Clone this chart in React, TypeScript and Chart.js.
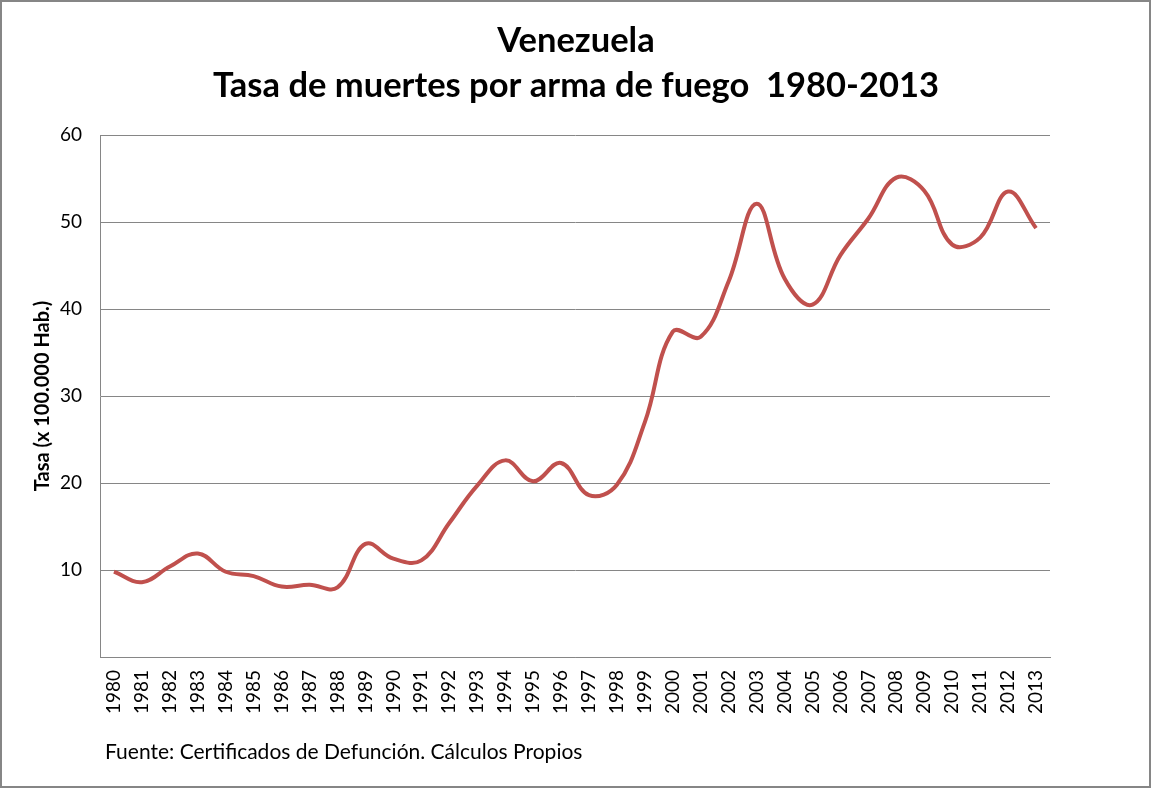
import React, { useEffect, useRef } from 'react';
import { Chart, registerables } from 'chart.js';

Chart.register(...registerables);

const titleLines = ['Venezuela', 'Tasa de muertes por arma de fuego  1980-2013'];
const yAxisTitle = 'Tasa (x 100.000 Hab.)';
const sourceNote = 'Fuente: Certificados de Defunción. Cálculos Propios';

const years = [
  '1980', '1981', '1982', '1983', '1984', '1985', '1986', '1987', '1988', '1989',
  '1990', '1991', '1992', '1993', '1994', '1995', '1996', '1997', '1998', '1999',
  '2000', '2001', '2002', '2003', '2004', '2005', '2006', '2007', '2008', '2009',
  '2010', '2011', '2012', '2013',
];

const rates = [
  9.8, 8.6, 10.4, 11.9, 9.8, 9.3, 8.1, 8.3, 8.0, 13.0,
  11.3, 11.1, 15.4, 19.7, 22.6, 20.2, 22.3, 18.6, 19.8, 27.0,
  37.4, 36.8, 43.2, 52.1, 43.5, 40.5, 46.2, 50.4, 55.1, 53.6,
  47.4, 48.2, 53.5, 49.3,
];

const yTicks = [10, 20, 30, 40, 50, 60];

const W = 1151;
const H = 788;
const FONT = 'Lato, "Open Sans", sans-serif';

const framePlugin = {
  id: 'frame',
  beforeDraw(chart: any) {
    const ctx = chart.ctx;
    ctx.save();
    ctx.fillStyle = '#ffffff';
    ctx.fillRect(0, 0, chart.width, chart.height);
    ctx.restore();
  },
  afterDraw(chart: any) {
    const ctx = chart.ctx;
    ctx.save();
    ctx.fillStyle = '#000000';
    ctx.textAlign = 'center';
    ctx.textBaseline = 'alphabetic';
    ctx.font = `bold 34.5px ${FONT}`;
    ctx.fillText(titleLines[0], 576, 52);
    ctx.fillText(titleLines[1], 576, 97);
    ctx.textAlign = 'left';
    ctx.font = `21px ${FONT}`;
    ctx.fillText(sourceNote, 105, 759);
    ctx.strokeStyle = '#868686';
    ctx.lineWidth = 2;
    ctx.strokeRect(1, 1, chart.width - 2, chart.height - 2);
    ctx.restore();
  },
};

export default function App() {
  const ref = useRef<HTMLCanvasElement | null>(null);

  useEffect(() => {
    if (!ref.current) return;
    const chart = new Chart(ref.current, {
      type: 'line',
      data: {
        labels: years,
        datasets: [
          {
            label: 'Tasa',
            data: rates,
            borderColor: '#C0504D',
            backgroundColor: '#C0504D',
            borderWidth: 4,
            pointRadius: 0,
            pointHoverRadius: 0,
            tension: 0.4,
            fill: false,
          },
        ],
      },
      options: {
        animation: false,
        responsive: false,
        devicePixelRatio: 1,
        layout: { padding: { top: 135, right: 101, bottom: 0, left: 0 } },
        plugins: {
          legend: { display: false },
          title: { display: false },
          tooltip: { enabled: false },
        },
        scales: {
          x: {
            type: 'category',
            offset: true,
            grid: { display: false, drawTicks: false },
            border: { display: true, color: '#868686', width: 1 },
            ticks: {
              minRotation: 90,
              maxRotation: 90,
              autoSkip: false,
              padding: 13,
              color: '#000000',
              font: { family: FONT, size: 19 },
            },
            afterFit(scale: any) {
              scale.height = H - 657;
            },
          },
          y: {
            min: 0,
            max: 60,
            afterBuildTicks(scale: any) {
              scale.ticks = [0, ...yTicks].map((v) => ({ value: v }));
            },
            grid: { color: '#868686', lineWidth: 1, drawTicks: false },
            border: { display: true, color: '#868686', width: 1 },
            ticks: {
              padding: 18,
              color: '#000000',
              font: { family: FONT, size: 19 },
              callback: (v: any) => (Number(v) === 0 ? '' : String(v)),
            },
            title: {
              display: true,
              text: yAxisTitle,
              color: '#000000',
              font: { family: FONT, size: 20, weight: 'bold' },
              padding: { top: 31, bottom: 0 },
            },
            afterFit(scale: any) {
              scale.width = 100;
            },
          },
        },
      },
      plugins: [framePlugin],
    });
    return () => chart.destroy();
  }, []);

  return (
    <div style={{ position: 'absolute', left: 0, top: 0, width: W, height: H, background: '#fff' }}>
      <canvas ref={ref} width={W} height={H} style={{ display: 'block', width: W, height: H }} />
    </div>
  );
}
